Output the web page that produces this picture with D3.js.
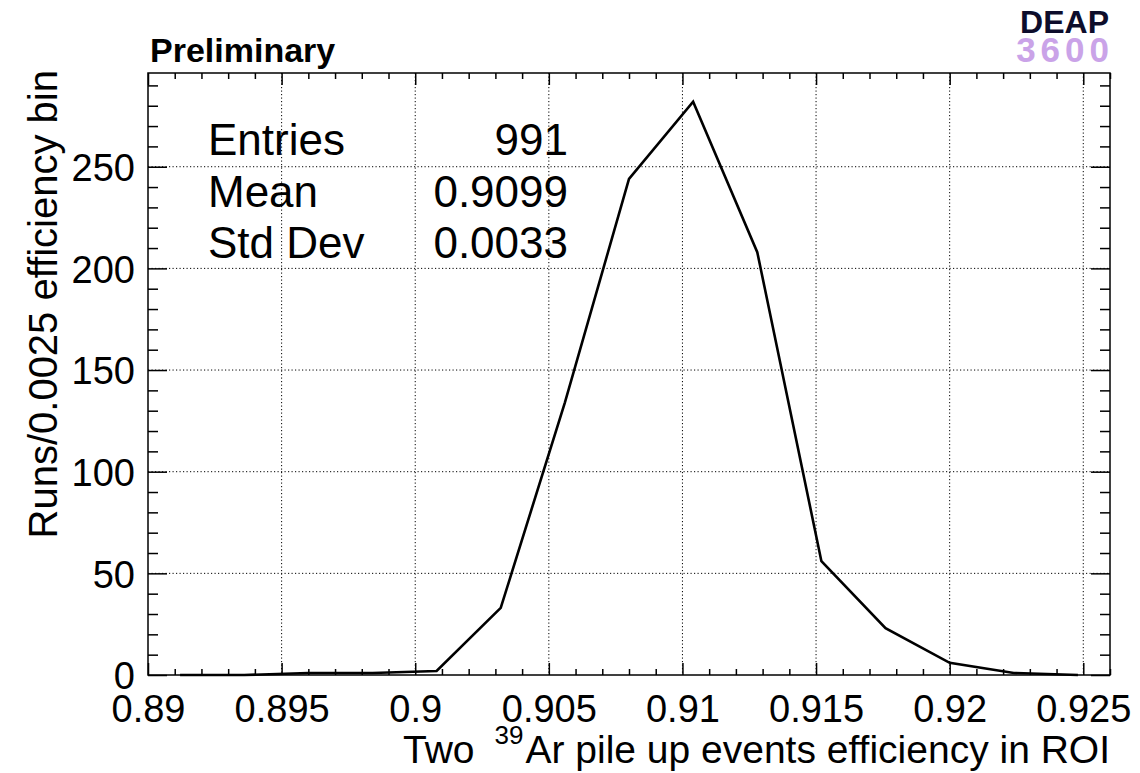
<!DOCTYPE html>
<html>
<head>
<meta charset="utf-8">
<script src="https://cdn.jsdelivr.net/npm/d3@7"></script>
<style>
  body { margin: 0; background: #fff; }
  svg { display: block; font-family: "Liberation Sans", Arial, sans-serif; }
</style>
</head>
<body>
<svg width="1140" height="773"></svg>
<script>
// Histogram: bin centres (width 0.0024) and runs per bin
const binCenters = [0.8912, 0.8936, 0.896, 0.8984, 0.9008, 0.9032, 0.9056, 0.908,
                    0.9104, 0.9128, 0.9152, 0.9176, 0.92, 0.9224, 0.9248];
const runs = [0, 0, 1, 1, 2, 33, 134, 244, 282, 208, 56, 23, 6, 1, 0];

const xTicks = [0.89, 0.895, 0.9, 0.905, 0.91, 0.915, 0.92, 0.925];
const yTicks = [0, 50, 100, 150, 200, 250];

const statNames = ["Entries", "Mean", "Std Dev"];
const statValues = ["991", "0.9099", "0.0033"];

const frame = { left: 148, right: 1110, top: 73, bottom: 675 };

const svg = d3.select("svg");

const x = d3.scaleLinear()
  .domain([0.89, 0.926])
  .range([frame.left, frame.right]);

const y = d3.scaleLinear()
  .domain([0, 296.1])
  .range([frame.bottom, frame.top]);

// dotted grid
const grid = svg.append("g")
  .attr("stroke", "#000")
  .attr("stroke-width", 1)
  .attr("stroke-dasharray", "1.2,2.3");

grid.selectAll(".gx")
  .data(xTicks.slice(1))
  .enter()
  .append("line")
  .attr("x1", d => x(d)).attr("x2", d => x(d))
  .attr("y1", frame.top).attr("y2", frame.bottom);

grid.selectAll(".gy")
  .data(yTicks.slice(1))
  .enter()
  .append("line")
  .attr("x1", frame.left).attr("x2", frame.right)
  .attr("y1", d => y(d)).attr("y2", d => y(d));

// minor tick values
const xMinor = d3.range(0.89, 0.9261, 0.001).filter(v => Math.abs(v * 200 - Math.round(v * 200)) > 1e-6);
const yMinor = d3.range(0, 296, 10).filter(v => v % 50 !== 0);

function tickAxis(axis, values, size) {
  return axis.tickValues(values).tickSize(size).tickFormat("");
}

// bottom axis (ticks inside)
const bottomAxis = svg.append("g")
  .attr("transform", `translate(0,${frame.bottom})`);
bottomAxis.append("g").call(tickAxis(d3.axisBottom(x), xMinor, -6));
bottomAxis.append("g").call(
  d3.axisBottom(x).tickValues(xTicks).tickSize(-12)
    .tickFormat(d => String(+d.toFixed(3))));
bottomAxis.selectAll("text")
  .attr("y", 47).attr("dy", null)
  .style("font-size", "38px")
  .attr("fill", "#000");

// top axis
const topAxis = svg.append("g")
  .attr("transform", `translate(0,${frame.top})`);
topAxis.append("g").call(tickAxis(d3.axisTop(x), xMinor, -6));
topAxis.append("g").call(tickAxis(d3.axisTop(x), xTicks, -12));

// left axis
const leftAxis = svg.append("g")
  .attr("transform", `translate(${frame.left},0)`);
leftAxis.append("g").call(tickAxis(d3.axisLeft(y), yMinor, -10));
leftAxis.append("g").call(d3.axisLeft(y).tickValues(yTicks).tickSize(-19));
leftAxis.selectAll("text")
  .attr("x", -13).attr("dy", "0.36em")
  .style("font-size", "38px")
  .attr("fill", "#000");

// right axis
const rightAxis = svg.append("g")
  .attr("transform", `translate(${frame.right},0)`);
rightAxis.append("g").call(tickAxis(d3.axisRight(y), yMinor, -10));
rightAxis.append("g").call(tickAxis(d3.axisRight(y), yTicks, -19));

svg.selectAll(".domain").remove();
svg.selectAll(".tick line").attr("stroke", "#000").attr("stroke-width", 1.5);

// frame
svg.append("rect")
  .attr("x", frame.left).attr("y", frame.top)
  .attr("width", frame.right - frame.left)
  .attr("height", frame.bottom - frame.top)
  .attr("fill", "none")
  .attr("stroke", "#000")
  .attr("stroke-width", 1.5);

// histogram drawn as polyline through bin centres
const line = d3.line()
  .x((d, i) => x(binCenters[i]))
  .y(d => y(d));

svg.append("path")
  .datum(runs)
  .attr("fill", "none")
  .attr("stroke", "#000")
  .attr("stroke-width", 2.6)
  .attr("stroke-linejoin", "miter")
  .attr("d", line);

// stats
const stats = svg.append("g").style("font-size", "44px");
statNames.forEach((name, i) => {
  stats.append("text")
    .attr("x", 208).attr("y", 155 + i * 51.5)
    .text(name);
  stats.append("text")
    .attr("x", 568).attr("y", 155 + i * 51.5)
    .attr("text-anchor", "end")
    .text(statValues[i]);
});

// axis titles
const xTitle = svg.append("text")
  .attr("x", frame.right).attr("y", 763)
  .attr("text-anchor", "end")
  .style("font-size", "39px");
xTitle.append("tspan").text("Two");
xTitle.append("tspan").attr("dx", 20).attr("dy", -19).style("font-size", "26px").text("39");
xTitle.append("tspan").attr("dx", 2).attr("dy", 19).text("Ar pile up events efficiency in ROI");

svg.append("text")
  .attr("transform", `translate(57,${frame.top - 3}) rotate(-90)`)
  .attr("text-anchor", "end")
  .style("font-size", "40px")
  .text("Runs/0.0025 efficiency bin");

// labels
svg.append("text")
  .attr("x", 150).attr("y", 62)
  .style("font-size", "34px")
  .style("font-weight", "bold")
  .text("Preliminary");

svg.append("text")
  .attr("x", 1109).attr("y", 33)
  .attr("text-anchor", "end")
  .style("font-size", "32px")
  .style("font-weight", "bold")
  .attr("fill", "#0d0d2b")
  .text("DEAP");

svg.append("text")
  .attr("x", 1114).attr("y", 62)
  .attr("text-anchor", "end")
  .style("font-size", "35px")
  .style("font-weight", "bold")
  .style("letter-spacing", "5px")
  .attr("fill", "#c59ae6")
  .attr("opacity", 0.9)
  .text("3600");
</script>
</body>
</html>
